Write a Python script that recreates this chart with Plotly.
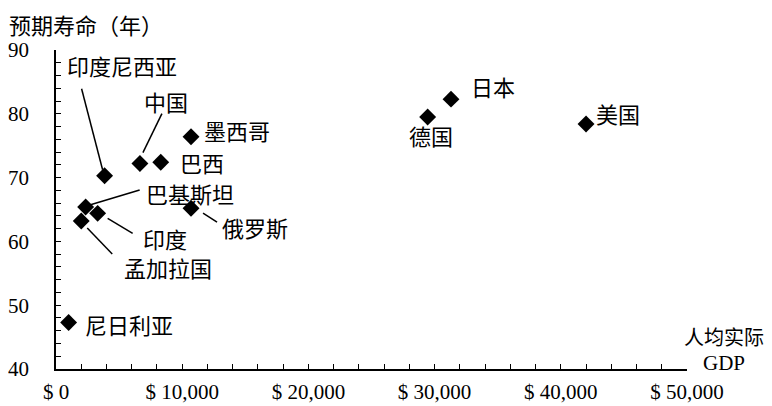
import plotly.graph_objects as go

countries = ["尼日利亚", "孟加拉国", "巴基斯坦", "印度", "印度尼西亚", "中国", "巴西",
             "墨西哥", "俄罗斯", "德国", "日本", "美国"]
gdp = [1000, 2000, 2350, 3300, 3850, 6650, 8300, 10700, 10700, 29450, 31300, 42000]
life = [47.3, 63.2, 65.4, 64.4, 70.3, 72.2, 72.4, 76.4, 65.2, 79.5, 82.3, 78.4]

x_tickvals = [0, 10000, 20000, 30000, 40000, 50000]
x_ticktext = ["$ 0", "$ 10,000", "$ 20,000", "$ 30,000", "$ 40,000", "$ 50,000"]
y_tickvals = [40, 50, 60, 70, 80, 90]

# label pixel offsets (xshift, yshift) relative to each point
label_shift = {
    "尼日利亚": (60, -2), "孟加拉国": (87, -46), "巴基斯坦": (104, 14), "印度": (67, -25),
    "印度尼西亚": (17, 111), "中国": (26, 63), "巴西": (41, 0), "墨西哥": (46, 7),
    "俄罗斯": (64, -19), "德国": (3, -18), "日本": (42, 13), "美国": (32, 11),
}
# leader lines in pixel offsets (x0, y0, x1, y1), y upward
leaders = {
    "孟加拉国": (6, -7, 31, -33), "巴基斯坦": (4, 2, 54, 17), "印度": (10, -5, 35, -20),
    "印度尼西亚": (-23, 87, -2, 6), "中国": (22, 50, 3, 11), "俄罗斯": (12, -5, 26, -14),
}

FONT = "Liberation Serif, Noto Sans CJK SC"
CJK = "Noto Sans CJK SC"

fig = go.Figure()
fig.add_trace(go.Scatter(
    x=gdp, y=life, mode="markers",
    marker=dict(symbol="diamond", size=13, color="black"),
    cliponaxis=False, hoverinfo="skip",
))

annotations = []
for c, gx, ly in zip(countries, gdp, life):
    xs, ys = label_shift[c]
    annotations.append(dict(x=gx, y=ly, xref="x", yref="y", text=c, showarrow=False,
                            xshift=xs, yshift=ys, font=dict(family=CJK, size=22, color="black")))
shapes = []
for c, gx, ly in zip(countries, gdp, life):
    if c in leaders:
        x0, y0, x1, y1 = leaders[c]
        shapes.append(dict(type="line", xref="x", yref="y", xsizemode="pixel", ysizemode="pixel",
                           xanchor=gx, yanchor=ly, x0=x0, y0=y0, x1=x1, y1=y1,
                           line=dict(color="black", width=1.5)))

annotations.append(dict(x=-0.0777, y=1.082, xref="paper", yref="paper", xanchor="left",
                        yanchor="middle", text="预期寿命（年）", showarrow=False,
                        font=dict(family=CJK, size=22, color="black")))
annotations.append(dict(x=1.0586, y=0.103, xref="paper", yref="paper", xanchor="center",
                        yanchor="middle", text="人均实际", showarrow=False,
                        font=dict(family=CJK, size=20, color="black")))
annotations.append(dict(x=1.0586, y=0.02, xref="paper", yref="paper", xanchor="center",
                        yanchor="middle", text="GDP", showarrow=False,
                        font=dict(family="Liberation Serif", size=21, color="black")))

# page body has an 8px margin, so the margins are shifted to place the axes
fig.update_layout(
    width=772, height=406,
    margin=dict(l=48, r=93, t=42, b=45, autoexpand=False),
    paper_bgcolor="white", plot_bgcolor="white",
    showlegend=False,
    annotations=annotations, shapes=shapes,
    font=dict(family=FONT, size=21, color="black"),
)
fig.update_xaxes(
    range=[0, 50000], tickvals=x_tickvals, ticktext=x_ticktext, automargin=False,
    showgrid=False, zeroline=False, showline=True, linecolor="black", linewidth=1.5,
    ticks="inside", ticklen=5, tickcolor="black", tickwidth=1.2,
    minor=dict(dtick=2000, ticks="inside", ticklen=5, tickcolor="black", tickwidth=1.2, showgrid=False),
    tickfont=dict(family="Liberation Serif", size=21, color="black"),
    ticklabelstandoff=3,
)
fig.update_yaxes(
    range=[40, 90], tickvals=y_tickvals, automargin=False,
    showgrid=False, zeroline=False, showline=True, linecolor="black", linewidth=1.5,
    ticks="inside", ticklen=5, tickcolor="black", tickwidth=1.2,
    minor=dict(dtick=2, ticks="inside", ticklen=5, tickcolor="black", tickwidth=1.2, showgrid=False),
    tickfont=dict(family="Liberation Serif", size=21, color="black"),
    ticklabelstandoff=21,
)

fig.write_html("out.html")
